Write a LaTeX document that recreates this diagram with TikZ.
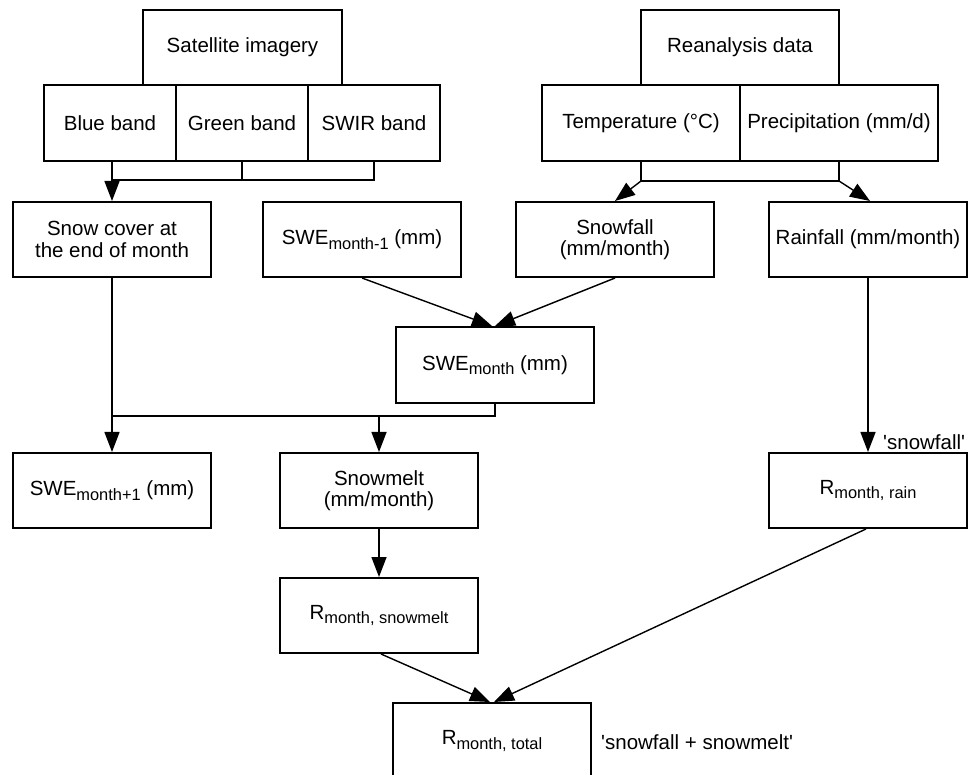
\documentclass[tikz,border=0pt]{standalone}
\usepackage{fontspec}
\newfontfamily\lib{Liberation Sans}
\usetikzlibrary{arrows.meta}
\newcommand\lowsub[1]{\raisebox{-4.5pt}{\fontsize{16.4}{18}\selectfont #1}}
\begin{document}
\begin{tikzpicture}[x=1pt,y=-1pt,
  box/.style={draw, line width=2pt, inner sep=0pt, minimum height=75pt, minimum width=198pt,
    align=center, font=\lib\fontsize{20.5}{21.5}\selectfont},
  conn/.style={line width=1.4pt},
  arr/.style={conn, -{Triangle[length=20pt,width=15pt]}},
  lbl/.style={inner sep=0pt, anchor=west, font=\lib\fontsize{20.5}{21.5}\selectfont}]
\useasboundingbox (0,0) rectangle (972,775);
% top sources
\node[box, minimum width=199pt] (sat) at (242.5,47.5) {Satellite imagery};
\node[box, minimum width=132pt, minimum height=76pt] (blue) at (110,123) {Blue band};
\node[box, minimum width=132pt, minimum height=76pt] (green) at (242,123) {Green band};
\node[box, minimum width=132pt, minimum height=76pt] (swir) at (374,123) {SWIR band};
\node[box] (rean) at (740,47.5) {Reanalysis data};
\node[box, minimum height=76pt] (temp) at (641,123) {Temperature (°C)};
\node[box, minimum height=76pt] (precip) at (839,123) {Precipitation (mm/d)};
% second row
\node[box] (snowcov) at (112,239.5) {Snow cover at\\the end of month};
\node[box] (swem1) at (362,239.5) {SWE\lowsub{month-1} (mm)};
\node[box] (snowfall) at (615,239.5) {Snowfall\\(mm/month)};
\node[box] (rainfall) at (868,239.5) {Rainfall (mm/month)};
% middle
\node[box, minimum height=76pt] (swe) at (495,365) {SWE\lowsub{month} (mm)};
\node[box] (swep1) at (112,490.5) {SWE\lowsub{month+1} (mm)};
\node[box] (snowmelt) at (379,490.5) {Snowmelt\\(mm/month)};
\node[box] (rrain) at (868,490.5) {R\lowsub{month, rain}};
\node[box] (rsnow) at (379,615.5) {R\lowsub{month, snowmelt}};
\node[box, minimum height=76pt] (rtotal) at (492,741) {R\lowsub{month, total}};
% labels
\node[lbl] (lsnow) at (883,442) {'snowfall'};
\node[lbl] (lsum) at (601,742) {'snowfall + snowmelt'};
% junction coordinates
\coordinate (jb) at (112,180);
\coordinate (jg) at (242,180);
\coordinate (js) at (374,180);
\coordinate (jt) at (641,181);
\coordinate (jp) at (839,181);
\coordinate (jl) at (112,416);
\coordinate (jm) at (379,416);
\coordinate (jr) at (495,416);
% satellite bands to snow cover
\draw[conn] (green.south) -- (jg);
\draw[conn] (swir.south) -- (js) -- (jb);
\draw[arr] (snowcov.north |- blue.south) -- (snowcov.north);
% reanalysis to snowfall / rainfall
\draw[conn] (temp.south) -- (jt) -- (jp) -- (precip.south);
\draw[arr] (jt) -- (snowfall.north);
\draw[arr] (jp) -- ([xshift=2pt]rainfall.north);
% into SWE month
\draw[arr] (swem1.south) -- ([xshift=-3pt]swe.north);
\draw[arr] (snowfall.south) -- ([xshift=0pt]swe.north);
% snow cover and SWE month
\draw[arr] (snowcov.south) -- (swep1.north);
\draw[conn] (swe.south) -- (jr) -- (jl);
\draw[arr] (jm) -- (snowmelt.north);
% rainfall
\draw[arr] (rainfall.south) -- (rrain.north);
% runoff
\draw[arr] (snowmelt.south) -- (rsnow.north);
\draw[arr] ([xshift=2pt]rsnow.south) -- ([xshift=-2pt]rtotal.north);
\draw[arr] ([xshift=-2pt]rrain.south) -- ([xshift=2pt]rtotal.north);
\end{tikzpicture}
\end{document}
